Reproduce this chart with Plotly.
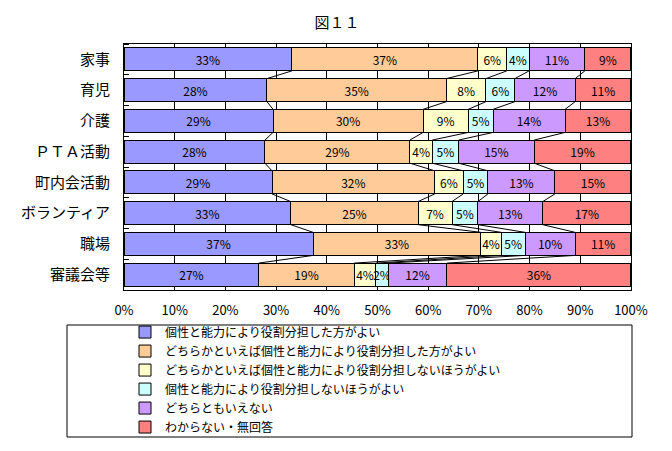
import plotly.graph_objects as go

categories = ["家事", "育児", "介護", "ＰＴＡ活動", "町内会活動", "ボランティア", "職場", "審議会等"]
series_names = [
    "個性と能力により役割分担した方がよい",
    "どちらかといえば個性と能力により役割分担した方がよい",
    "どちらかといえば個性と能力により役割分担しないほうがよい",
    "個性と能力により役割分担しないほうがよい",
    "どちらともいえない",
    "わからない・無回答",
]
s1 = [33.1, 28.2, 29.4, 27.8, 29.2, 32.9, 37.3, 26.6]
s2 = [36.7, 35.4, 29.6, 28.6, 32.1, 25.1, 33.1, 18.8]
s3 = [5.7, 7.8, 8.9, 4.4, 5.6, 6.7, 4.0, 4.3]
s4 = [4.4, 5.7, 4.9, 5.2, 4.9, 5.1, 4.7, 2.4]
s5 = [11.0, 11.9, 14.2, 14.9, 13.2, 12.8, 9.9, 11.6]
s6 = [9.1, 11.0, 13.0, 19.1, 15.0, 17.4, 11.0, 36.3]
series = [s1, s2, s3, s4, s5, s6]
colors = ["#9999FF", "#FFCC99", "#FFFFCC", "#CCFFFF", "#CC99FF", "#FF8080"]
x_ticks = [0, 10, 20, 30, 40, 50, 60, 70, 80, 90, 100]

FONT = "Noto Sans CJK JP"
BW = 0.75
ypos = list(range(len(categories)))

fig = go.Figure()
for name, vals, col in zip(series_names, series, colors):
    fig.add_trace(go.Bar(
        x=vals, y=ypos, name=name, orientation="h", width=BW,
        marker=dict(color=col, line=dict(color="black", width=1)),
        texttemplate="%{x:.0f}%", textposition="inside", insidetextanchor="middle",
        textangle=0,
        textfont=dict(family=FONT, size=12, color="black"),
        constraintext="none", cliponaxis=False, hoverinfo="skip",
    ))

# series lines between bars
cums = []
for i in range(len(categories)):
    c, acc = [], 0
    for s in series[:-1]:
        acc += s[i]
        c.append(acc)
    cums.append(c)
lx, ly = [], []
for i in range(len(categories) - 1):
    for k in range(len(series) - 1):
        lx += [cums[i][k], cums[i + 1][k], None]
        ly += [i + BW / 2, i + 1 - BW / 2, None]
fig.add_trace(go.Scatter(x=lx, y=ly, mode="lines", line=dict(color="black", width=1),
                         showlegend=False, hoverinfo="skip"))

fig.add_shape(type="rect", xref="paper", yref="paper",
              x0=-0.1124, x1=1.002, y0=-0.5976, y1=-0.1423,
              line=dict(color="black", width=1), fillcolor="rgba(0,0,0,0)")

fig.update_layout(
    width=664, height=443,
    barmode="stack",
    plot_bgcolor="white", paper_bgcolor="white",
    margin=dict(l=116, r=41, t=36, b=161, autoexpand=False),
    font=dict(family=FONT, size=12, color="black"),
    title=dict(text="図１１", x=0.4955, xref="container", xanchor="center",
               y=0.966, yref="container", yanchor="middle",
               font=dict(family=FONT, size=15, color="black")),
    showlegend=True,
    legend=dict(x=0.002, y=-0.112, xanchor="left", yanchor="top", traceorder="normal",
                font=dict(family=FONT, size=12), bgcolor="rgba(0,0,0,0)",
                itemwidth=30, tracegroupgap=0),
)
fig.update_xaxes(range=[0, 100.01], tickvals=x_ticks, ticktext=[f"{v}%" for v in x_ticks],
                 showgrid=True, gridcolor="black", gridwidth=1,
                 showline=True, linecolor="black", linewidth=1, mirror=True,
                 ticks="", tickfont=dict(family=FONT, size=13), zeroline=False, fixedrange=True,
                 ticklabelstandoff=8)
fig.update_yaxes(range=[len(categories) - 0.5, -0.5], tickvals=ypos, ticktext=categories,
                 showgrid=False, showline=True, linecolor="black", linewidth=1, mirror=True,
                 ticks="", tickfont=dict(family=FONT, size=15), zeroline=False,
                 ticklabelstandoff=10,
                 minor=dict(tick0=0.5, dtick=1, ticks="inside", ticklen=5, tickcolor="black"))

fig.write_html("out.html")
